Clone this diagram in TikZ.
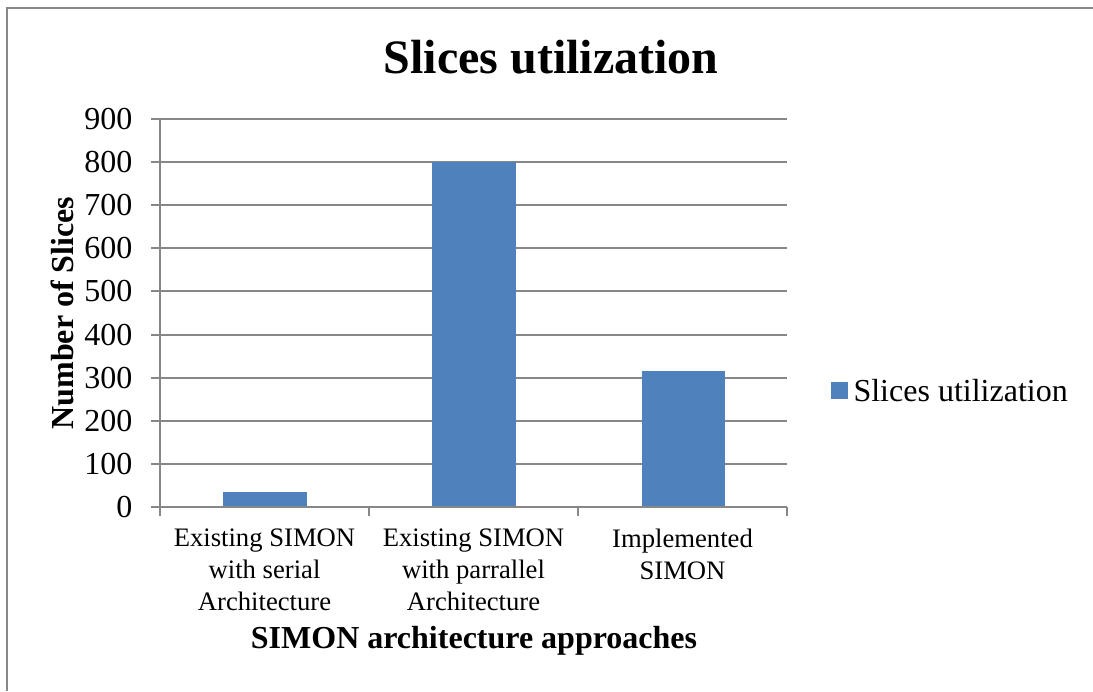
\documentclass[tikz,border=0pt]{standalone}
\usepackage{fontspec}
\setmainfont{Liberation Serif}
\begin{document}
\begin{tikzpicture}[x=0.375pt,y=-0.375pt,
  frame/.style={draw=black!47,line width=0.75pt},
  grid/.style={draw=black!47,line width=0.75pt},
  bar/.style={fill=barblue,draw=none},
  ticklabel/.style={anchor=east,inner sep=0pt,font=\fontsize{12}{14}\selectfont},
  catlabel/.style={align=center,inner sep=0pt,font=\fontsize{10}{12}\selectfont},
  axistitle/.style={inner sep=0pt,font=\fontsize{12}{14}\selectfont\bfseries}]
\definecolor{barblue}{HTML}{4F81BD}
\useasboundingbox (0,0) rectangle (1093,691);
% outer chart frame (only top and left edges fall inside the page)
\draw[frame] (1093,8) -- (7,8) -- (7,691);
% horizontal gridlines and y ticks
\foreach \v in {0,100,...,900}{
  \pgfmathsetmacro{\yy}{507-0.4311*\v}
  \draw[grid] (151,\yy) -- (787,\yy);
  \node[ticklabel] (y\v) at (133,\yy) {\v};
}
% bars
\fill[bar] (223,507) rectangle (307,{507-0.4311*35});
\fill[bar] (432,507) rectangle (516,{507-0.4311*800});
\fill[bar] (642,507) rectangle (725,{507-0.4311*315});
% axes and category ticks
\draw[grid] (160,119) -- (160,507);
\draw[grid] (160,507) -- (787,507);
\foreach \xx in {160,369,578,787}
  \draw[grid] (\xx,507) -- (\xx,516);
% category labels
\node[catlabel] (c1) at (264.5,570) {Existing SIMON\\with serial\\Architecture};
\node[catlabel] (c2) at (473.5,570) {Existing SIMON\\with parrallel\\Architecture};
\node[catlabel] (c3) at (682.5,554) {Implemented\\SIMON};
% titles
\node[inner sep=0pt,font=\fontsize{18}{21}\selectfont\bfseries] (title) at (551,57) {Slices utilization};
\node[axistitle] (xtitle) at (474,641) {SIMON architecture approaches};
\node[axistitle,rotate=90] (ytitle) at (62,313) {Number of Slices};
% legend
\fill[bar] (831,382) rectangle (848,399);
\node[anchor=west,inner sep=0pt,font=\fontsize{12}{14}\selectfont] (leg) at (853,391) {Slices utilization};
\end{tikzpicture}
\end{document}
